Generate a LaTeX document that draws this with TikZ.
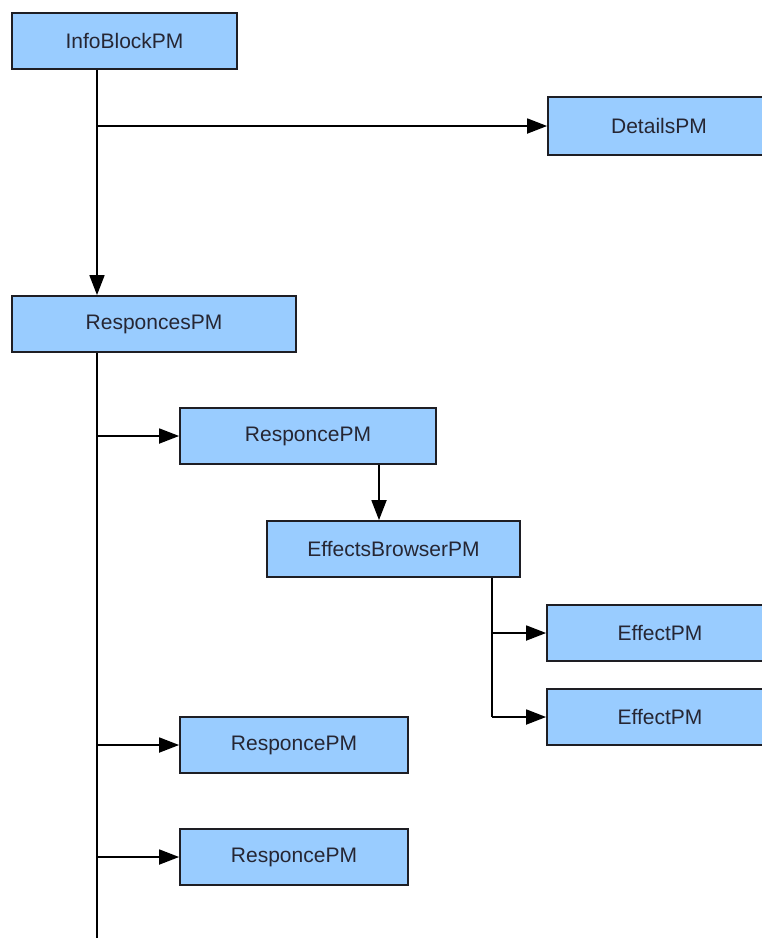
\documentclass[tikz,border=0pt]{standalone}
\usepackage{fontspec}
\setmainfont{Liberation Sans}
\usetikzlibrary{arrows.meta}

\definecolor{pmfill}{HTML}{99CCFF}
\definecolor{pmline}{HTML}{1E1E24}
\definecolor{pmtext}{HTML}{262633}

\tikzset{
  pmbox/.style={draw=pmline, fill=pmfill, line width=1.8pt, inner sep=0pt,
    minimum height=56pt, text=pmtext,
    font=\fontsize{21}{25}\selectfont},
  link/.style={draw=black, line width=1.8pt},
  linkarrow/.style={link, -{Triangle[length=20pt,width=15pt]}}
}

\begin{document}
\begin{tikzpicture}[x={(1pt,0)}, y={(0,-1pt)}]
  % page frame (also the bounding box)
  \clip (0,0) rectangle (762,938);
  \fill[white] (0,0) rectangle (762,938);

  % boxes
  \node[pmbox, minimum width=225pt] (info)    at (124.5,41)  {InfoBlockPM};
  \node[pmbox, minimum width=222pt, minimum height=58pt] (details) at (659,126) {DetailsPM};
  \node[pmbox, minimum width=284pt] (resps)   at (154,324)   {ResponcesPM};
  \node[pmbox, minimum width=256pt] (r1)      at (308,436)   {ResponcePM};
  \node[pmbox, minimum width=253pt] (eb)      at (393.5,549) {EffectsBrowserPM};
  \node[pmbox, minimum width=226pt] (e1)      at (660,633)   {EffectPM};
  \node[pmbox, minimum width=226pt] (e2)      at (660,717)   {EffectPM};
  \node[pmbox, minimum width=228pt] (r2)      at (294,745)   {ResponcePM};
  \node[pmbox, minimum width=228pt] (r3)      at (294,857)   {ResponcePM};

  % vertical guides for the connector runs
  \coordinate (spine) at (97,0);
  \coordinate (drop)  at (379,0);
  \coordinate (ebx)   at (492,0);
  \coordinate (spineEnd) at (97,945);

  % InfoBlockPM children
  \draw[linkarrow] (info.south -| spine) -- (resps.north -| spine);
  \draw[linkarrow] (spine |- details.west) -- (details.west);

  % ResponcesPM children
  \draw[link] (resps.south -| spine) -- (spineEnd);
  \draw[linkarrow] (spine |- r1.west) -- (r1.west);
  \draw[linkarrow] (spine |- r2.west) -- (r2.west);
  \draw[linkarrow] (spine |- r3.west) -- (r3.west);

  % ResponcePM -> EffectsBrowserPM
  \draw[linkarrow] (r1.south -| drop) -- (eb.north -| drop);

  % EffectsBrowserPM children
  \draw[link] (eb.south -| ebx) -- (ebx |- e2.west);
  \draw[linkarrow] (ebx |- e1.west) -- (e1.west);
  \draw[linkarrow] (ebx |- e2.west) -- (e2.west);
\end{tikzpicture}
\end{document}
